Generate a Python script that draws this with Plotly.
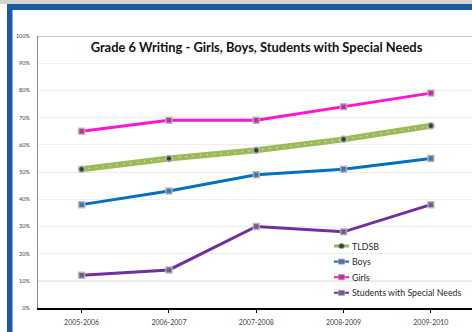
import plotly.graph_objects as go

# ---- data ----
years = ["2005-2006", "2006-2007", "2007-2008", "2008-2009", "2009-2010"]
tldsb = [51, 55, 58, 62, 67]
boys = [38, 43, 49, 51, 55]
girls = [65, 69, 69, 74, 79]
special_needs = [12, 14, 30, 28, 38]
y_ticks = [0, 10, 20, 30, 40, 50, 60, 70, 80, 90, 100]
y_tick_labels = [f"{v}%" for v in y_ticks]

# ---- canvas / layout geometry ----
W, H = 472, 332
ML, MR, MT, MB = 38, 0, 36, 24
PW, PH = W - ML - MR, H - MT - MB
CAT_STEP = 87.3  # pixel spacing between categories


def px_x(px):
    return (px - ML) / PW


def px_y(py):
    return (H - MB - py) / PH


FONT = "Lato"
HALO = dict(color="rgba(185,185,185,0.85)", width=1.5)

series = [
    dict(name="TLDSB", y=tldsb, color="#9BBB59", width=6, marker="circle", mcolor="#34452C"),
    dict(name="Boys", y=boys, color="#0070C0", width=3, marker="square", mcolor="#4A76A8"),
    dict(name="Girls", y=girls, color="#FF14D2", width=3, marker="square", mcolor="#B9329E"),
    dict(name="Students with Special Needs", y=special_needs, color="#7030A0", width=3,
         marker="square", mcolor="#6E5E8C"),
]

fig = go.Figure()
for s in series:
    fig.add_trace(go.Scatter(
        x=years, y=s["y"], mode="lines+markers", name=s["name"],
        line=dict(color=s["color"], width=s["width"]),
        marker=dict(symbol=s["marker"], size=6, color=s["mcolor"], line=HALO),
        showlegend=False, cliponaxis=False,
    ))
    if s["name"] == "TLDSB":
        # white dotted texture running along the thick green line
        fig.add_trace(go.Scatter(
            x=years, y=s["y"], mode="lines",
            line=dict(color="rgba(255,255,255,0.85)", width=1.2, dash="1px,6px"),
            showlegend=False, hoverinfo="skip",
        ))
        fig.add_trace(go.Scatter(
            x=years, y=s["y"], mode="markers",
            marker=dict(symbol=s["marker"], size=6, color=s["mcolor"], line=HALO),
            showlegend=False, hoverinfo="skip", cliponaxis=False,
        ))

shapes = []
annotations = []

# frame: grey strip, blue band across the top and down the left side
shapes.append(dict(type="rect", xref="paper", yref="paper", x0=px_x(0), x1=px_x(W),
                   y0=px_y(4), y1=px_y(0), fillcolor="#D3D3D3", line_width=0, layer="below"))
shapes.append(dict(type="rect", xref="paper", yref="paper", x0=px_x(7), x1=px_x(W),
                   y0=px_y(10), y1=px_y(4), fillcolor="#1B5BA3", line_width=0))
shapes.append(dict(type="rect", xref="paper", yref="paper", x0=px_x(7), x1=px_x(12.5),
                   y0=px_y(H), y1=px_y(4), fillcolor="#1B5BA3", line_width=0))

# top border at 100% and darker rule at 10%
shapes.append(dict(type="line", xref="paper", yref="y", x0=0, x1=1, y0=100, y1=100,
                   line=dict(color="#8C8C8C", width=1)))
shapes.append(dict(type="line", xref="paper", yref="y", x0=0, x1=1, y0=10, y1=10,
                   line=dict(color="#BDBDBD", width=1), layer="below"))

# legend: short line with marker and label per series
LEG_X0, LEG_X1, LEG_TX = 334, 349, 350
LEG_Y0, LEG_STEP = 246, 15.6
for i, s in enumerate(series):
    ly = LEG_Y0 + i * LEG_STEP
    lw = 3 if s["name"] == "TLDSB" else 2
    shapes.append(dict(type="line", xref="paper", yref="paper",
                       x0=px_x(LEG_X0), x1=px_x(LEG_X1), y0=px_y(ly), y1=px_y(ly),
                       line=dict(color=s["color"], width=lw)))
    cx = (LEG_X0 + LEG_X1) / 2
    shapes.append(dict(type="rect" if s["marker"] == "square" else "circle",
                       xref="paper", yref="paper",
                       x0=px_x(cx - 3), x1=px_x(cx + 3), y0=px_y(ly + 2.5), y1=px_y(ly - 2.5),
                       fillcolor=s["mcolor"], line=dict(color="#9A9A9A", width=0.8)))
    annotations.append(dict(xref="paper", yref="paper", x=px_x(LEG_TX), y=px_y(ly),
                            xanchor="left", yanchor="middle", showarrow=False,
                            text=s["name"], font=dict(family=FONT, size=8.8, color="#262626")))

fig.update_layout(
    width=W, height=H,
    margin=dict(l=ML, r=MR, t=MT, b=MB),
    paper_bgcolor="white", plot_bgcolor="white",
    title=dict(text="<b>Grade 6 Writing - Girls, Boys, Students with Special Needs</b>",
               x=px_x(256.5), xref="paper", y=1 - 47 / H, yref="container",
               xanchor="center", yanchor="middle",
               font=dict(family=FONT, size=12.9, color="#111111")),
    shapes=shapes,
    annotations=annotations,
    showlegend=False,
    xaxis=dict(type="category", range=[-0.5, -0.5 + PW / CAT_STEP],
               showline=True, linecolor="#000000", linewidth=1.5,
               ticks="outside", ticklen=3, tickcolor="#000000",
               showgrid=False, zeroline=False, ticklabelstandoff=4,
               tickfont=dict(family=FONT, size=7, color="#404040")),
    yaxis=dict(range=[0, 100], tickvals=y_ticks, ticktext=y_tick_labels,
               showline=True, linecolor="#8C8C8C", linewidth=1,
               showgrid=True, gridcolor="#EEEEEE", gridwidth=1,
               zeroline=False, ticks="", ticklabelstandoff=6,
               tickfont=dict(family=FONT, size=5.5, color="#404040")),
)

fig.write_html("out.html")
